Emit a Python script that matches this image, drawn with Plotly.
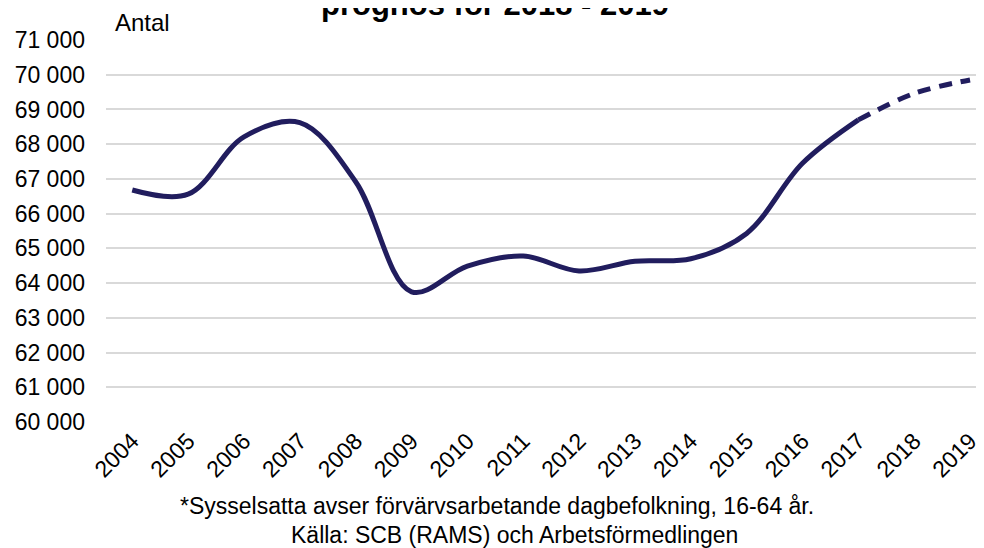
import plotly.graph_objects as go

years = [str(y) for y in range(2004, 2020)]
# Sysselsatta (antal), 2004-2017 utfall, 2018-2019 prognos
utfall = [66680, 66560, 68210, 68620, 66920, 63750, 64490, 64780,
          64350, 64630, 64700, 65430, 67450, 68700]
prognos = [68700, 69460, 69850]
prognos_years = years[13:]

ticks_y = list(range(60000, 71001, 1000))
ticks_y_text = [f"{v // 1000} 000" for v in ticks_y]

navy = '#211d5e'
font_family = 'Liberation Sans, Arial, sans-serif'

fig = go.Figure()

# Utfall (heldragen linje)
fig.add_trace(go.Scatter(
    x=years[:14],
    y=utfall,
    mode='lines',
    line={'color': navy, 'width': 5, 'shape': 'spline', 'smoothing': 1.0},
    showlegend=False
))

# Prognos (streckad linje)
fig.add_trace(go.Scatter(
    x=prognos_years,
    y=prognos,
    mode='lines',
    line={'color': navy, 'width': 5, 'shape': 'spline', 'smoothing': 1.0,
          'dash': '13px,9px'},
    showlegend=False
))

fig.update_xaxes(
    type='category',
    range=[-0.47, 15.25],
    tickangle=-45,
    tickfont={'size': 23, 'color': '#000000'},
    showgrid=False,
    showline=False,
    zeroline=False,
    automargin=False
)

fig.update_yaxes(
    range=[60000, 71000],
    tickvals=ticks_y,
    ticktext=ticks_y_text,
    tickfont={'size': 23, 'color': '#000000'},
    ticklabelstandoff=20,
    showgrid=True,
    gridcolor='#d9d9d9',
    gridwidth=1.5,
    zeroline=False,
    showline=False,
    automargin=False
)

fig.add_annotation(
    text='Antal', xref='paper', yref='paper', x=0.008, y=1.0, yshift=2,
    xanchor='left', yanchor='bottom', showarrow=False,
    font={'size': 24, 'color': '#000000'}
)

fig.add_annotation(
    text='<b>prognos för 2018 - 2019</b>', xref='paper', yref='paper',
    x=0.443, y=1.0, yshift=16, xanchor='center', yanchor='bottom',
    showarrow=False, font={'size': 31, 'color': '#000000'}
)

fig.add_annotation(
    text='*Sysselsatta avser förvärvsarbetande dagbefolkning, 16-64 år.',
    xref='paper', yref='paper', x=0.445, y=0, yshift=-69,
    xanchor='center', yanchor='top', showarrow=False,
    font={'size': 23, 'color': '#000000'}
)

fig.add_annotation(
    text='Källa: SCB (RAMS) och Arbetsförmedlingen',
    xref='paper', yref='paper', x=0.465, y=0, yshift=-98,
    xanchor='center', yanchor='top', showarrow=False,
    font={'size': 23, 'color': '#000000'}
)

fig.update_layout(
    width=976,
    height=540,
    margin={'l': 98, 'r': 0, 't': 32, 'b': 126},
    plot_bgcolor='white',
    paper_bgcolor='white',
    font={'family': font_family, 'color': '#000000'}
)

fig.write_html("out.html")
